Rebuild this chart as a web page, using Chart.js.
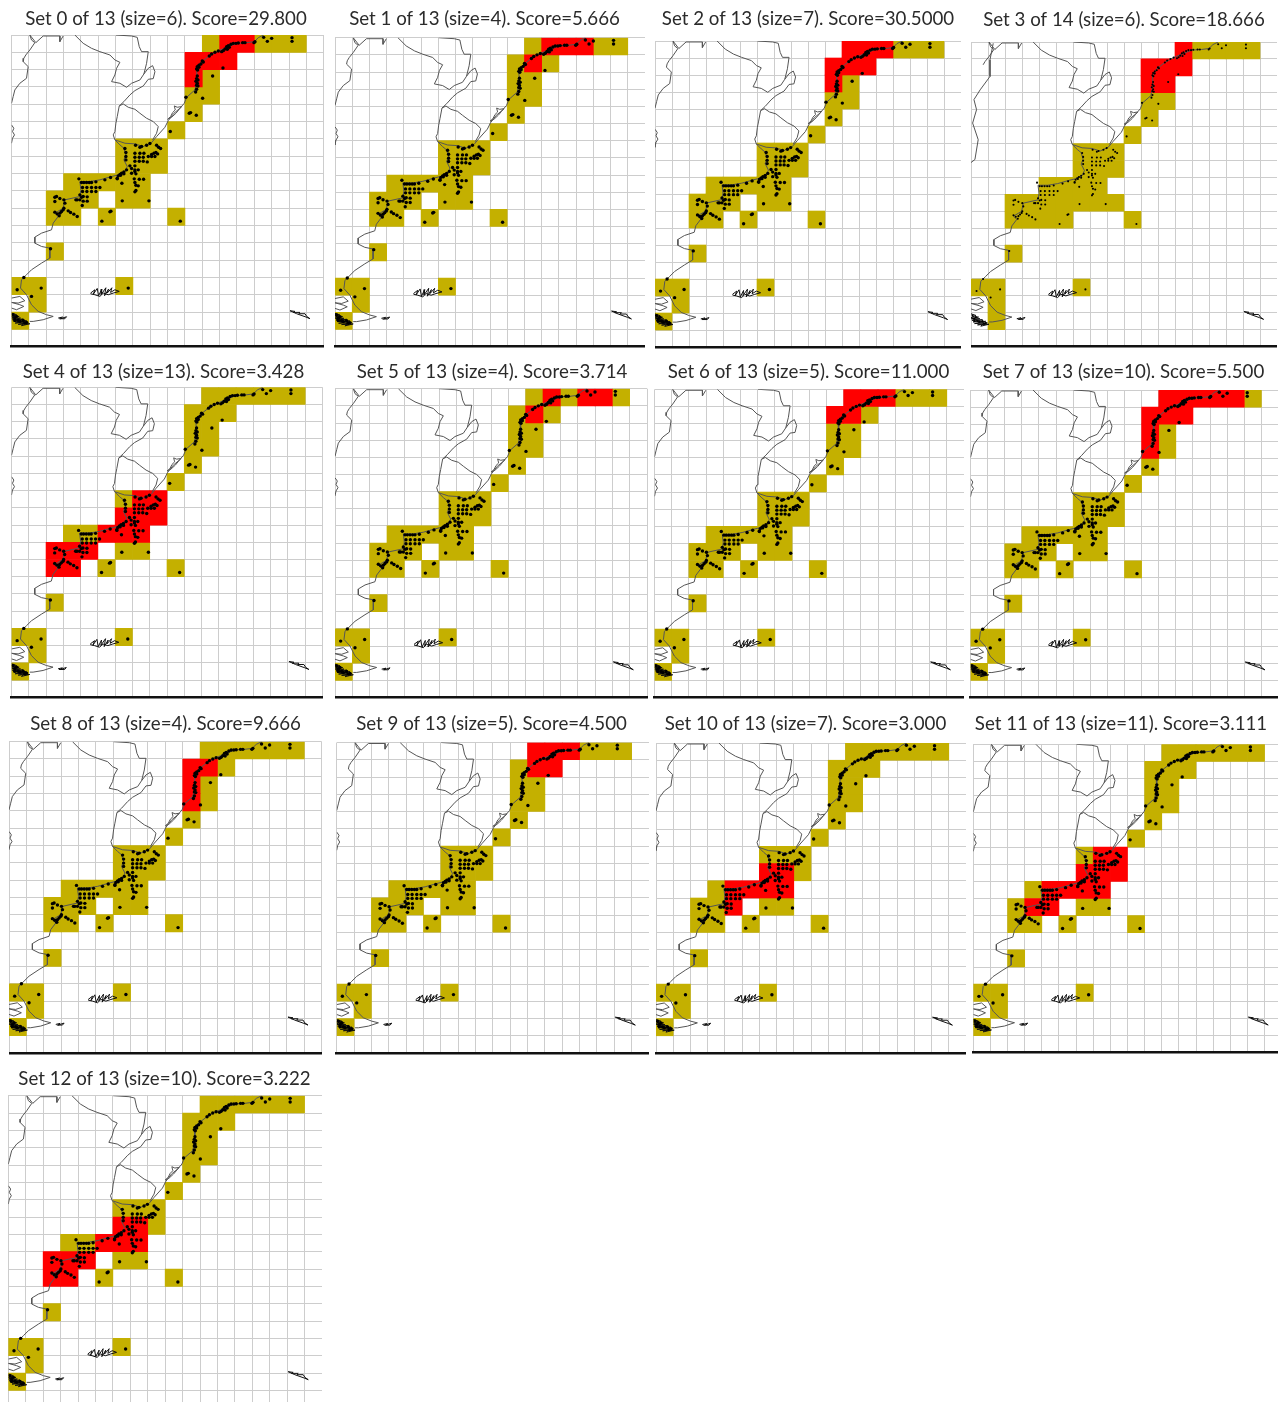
<!DOCTYPE html>
<html><head><meta charset="utf-8">
<style>
html,body{margin:0;padding:0;background:#fff;width:1278px;height:1402px;overflow:hidden}
#wrap{position:relative;width:1278px;height:1402px;overflow:hidden}
canvas{position:absolute;filter:blur(.35px)}
</style>
<script src="https://cdn.jsdelivr.net/npm/chart.js@4/dist/chart.umd.min.js"></script>
</head><body><div id="wrap"></div>
<script>
const titles=["Set 0 of 13 (size=6). Score=29.800","Set 1 of 13 (size=4). Score=5.666","Set 2 of 13 (size=7). Score=30.5000","Set 3 of 14 (size=6). Score=18.666","Set 4 of 13 (size=13). Score=3.428","Set 5 of 13 (size=4). Score=3.714","Set 6 of 13 (size=5). Score=11.000","Set 7 of 13 (size=10). Score=5.500","Set 8 of 13 (size=4). Score=9.666","Set 9 of 13 (size=5). Score=4.500","Set 10 of 13 (size=7). Score=3.000","Set 11 of 13 (size=11). Score=3.111","Set 12 of 13 (size=10). Score=3.222"];

// occupied cells [column,row]
const goldCells=[[11,0],[12,0],[13,0],[14,0],[15,0],[16,0],[10,1],[11,1],[12,1],[10,2],[11,2],[10,3],[11,3],[10,4],[9,5],[6,6],[7,6],[8,6],[6,7],[7,7],[8,7],[3,8],[4,8],[5,8],[6,8],[7,8],[2,9],[3,9],[4,9],[6,9],[7,9],[2,10],[3,10],[5,10],[9,10],[2,12],[0,14],[1,14],[6,14],[1,15],[0,16]];
const goldCellsSet3=[[12,0],[13,0],[14,0],[15,0],[16,0],[10,1],[11,1],[12,1],[10,2],[11,2],[10,3],[11,3],[10,4],[9,5],[6,6],[7,6],[8,6],[6,7],[7,7],[8,7],[4,8],[5,8],[6,8],[7,8],[2,9],[3,9],[4,9],[5,9],[6,9],[7,9],[8,9],[2,10],[3,10],[4,10],[5,10],[9,10],[2,12],[0,14],[1,14],[6,14],[1,15],[1,16]];
// highlighted cells per set
const red0=[[12,0],[13,0],[10,1],[11,1],[12,1],[10,2]];
const red1=[[12,0],[13,0],[14,0],[11,1]];
const red2=[[11,0],[12,0],[13,0],[10,1],[11,1],[12,1],[10,2]];
const red3=[[12,0],[10,1],[11,1],[12,1],[10,2],[11,2]];
const red4=[[7,6],[8,6],[6,7],[7,7],[8,7],[5,8],[6,8],[7,8],[2,9],[3,9],[4,9],[2,10],[3,10]];
const red5=[[12,0],[14,0],[15,0],[11,1]];
const red6=[[11,0],[12,0],[13,0],[10,1],[11,1]];
const red7=[[11,0],[12,0],[13,0],[14,0],[15,0],[10,1],[11,1],[12,1],[10,2],[10,3]];
const red8=[[10,1],[11,1],[10,2],[10,3]];
const red9=[[11,0],[12,0],[13,0],[11,1],[12,1]];
const red10=[[6,7],[7,7],[4,8],[5,8],[6,8],[7,8],[4,9]];
const red11=[[7,6],[8,6],[6,7],[7,7],[8,7],[4,8],[5,8],[6,8],[7,8],[3,9],[4,9]];
const red12=[[6,7],[7,7],[5,8],[6,8],[7,8],[2,9],[3,9],[4,9],[2,10],[3,10]];
const redSets=[red0,red1,red2,red3,red4,red5,red6,red7,red8,red9,red10,red11,red12];

// occurrence records, map units
const recordsNorth=[[876,113],[876,124],[815,115],[791,112],[802,124],[762,128],[765,125],[735,128],[728,128],[715,129],[708,130],[700,130],[693,133],[685,137],[688,142],[680,140],[675,147],[670,152],[682,148],[665,155],[655,153],[645,157],[635,162],[628,168],[607,183],[610,186],[669,204],[603,192],[597,196],[592,200],[590,207],[597,202],[593,210],[638,228],[592,228],[590,236],[594,240],[588,244],[592,250],[590,256],[594,258],[590,268],[587,276],[558,292],[608,295],[568,340],[572,338],[589,346],[511,395]];
const recordsShelf=[[407,436],[420,442],[425,440],[440,436],[450,431],[470,436],[476,442],[482,446],[375,446],[378,458],[405,460],[420,460],[432,460],[468,458],[462,460],[455,464],[473,462],[378,470],[405,472],[418,472],[430,472],[445,470],[455,470],[465,470],[378,480],[405,484],[418,484],[430,484],[442,486],[390,498],[405,498],[395,506],[380,510],[405,510],[415,510],[372,516],[365,520],[360,524],[372,522],[355,528],[352,535],[362,526],[395,520],[405,515],[408,522]];
const recordsGulf=[[237,537],[245,548],[252,548],[260,548],[268,548],[275,548],[288,546],[315,540],[332,533],[352,537],[366,550],[403,537],[418,538],[431,538],[405,548],[408,556],[415,558],[248,563],[261,563],[275,563],[288,563],[300,563],[248,575],[261,575],[275,575],[288,575],[408,572],[405,576],[240,585],[232,600],[245,592],[250,590],[262,591],[262,604],[250,604],[240,600],[228,600],[247,617],[165,592],[170,590],[180,596],[192,600],[195,610],[165,605],[367,603],[447,603],[192,625],[190,630],[165,637],[172,642],[180,640],[185,635],[205,633],[212,638],[222,643],[232,650],[178,648],[330,636],[333,634],[306,664],[541,664]];
const recordsSouth=[[152,747],[72,833],[124,865],[52,870],[95,890],[385,865],[40,945],[45,955],[50,950],[60,965],[70,962],[80,968],[45,962],[55,962],[75,970]];

// coastlines and borders, map units
const coastAtlantic=[[791,105],[775,113],[763,125],[740,128],[710,130],[685,140],[650,155],[625,170],[600,190],[590,210],[592,240],[585,270],[560,292],[553,310],[540,325],[522,340],[505,362],[495,382],[470,410],[455,428],[430,440],[405,432],[375,430],[345,420],[360,435],[372,445],[378,465],[372,480],[382,500],[375,515],[355,525],[335,530],[300,540],[270,545],[240,545],[243,570],[240,590],[195,600],[190,625],[165,640],[175,650],[160,670],[155,690],[125,700],[105,712],[105,730],[125,740],[150,745],[150,775],[125,790],[95,810],[80,825],[65,840],[62,865],[80,885],[95,915],[115,935],[140,945],[160,950],[130,960],[100,965],[90,965]];
const borderUruguay=[[345,420],[340,405],[345,395],[348,370],[352,350],[358,318],[370,312],[385,322],[405,328],[420,340],[440,355],[460,365],[475,380],[470,400],[458,420]];
const borderBrazil=[[358,318],[372,305],[390,285],[405,272],[430,258],[445,238],[460,236],[465,215],[458,197],[445,205],[432,222],[420,240],[395,250],[380,262],[360,250],[335,245],[345,225],[350,205],[360,187],[345,180],[330,165],[300,155],[275,145],[250,130],[225,105]];
const borderParaguay=[[348,105],[395,108],[412,112],[418,140],[425,155],[445,155],[440,190],[432,222]];
const borderBolivia=[[72,175],[78,165],[90,150],[105,128],[95,120],[90,105],[108,128],[130,108],[180,108],[180,125],[190,108]];
const coastChile=[[72,175],[70,185],[85,200],[80,235],[60,250],[45,270],[40,290],[35,310]];
const coastPatch=[[35,375],[42,385],[38,395],[44,405],[38,415],[35,430]];
const coastChileSet3=[[103,109],[93,160],[93,211],[63,252],[44,282],[52,313],[40,354],[57,405],[47,466],[34,476]];
const lagoon=[[503,358],[512,350],[518,338],[526,330],[523,318],[532,322],[545,320],[538,328],[528,340],[515,352],[503,358]];
const magallanes=[[35,895],[60,890],[75,903],[55,910],[35,908],[60,915],[72,920],[50,930],[35,925]];
const coastLines=[coastAtlantic,borderUruguay,borderBrazil,borderParaguay,borderBolivia,coastChile,coastPatch,lagoon,magallanes];
// small dense island outlines
const falklands=[[272,880],[285,870],[280,884],[292,866],[296,888],[306,868],[304,884],[318,864],[314,888],[326,868],[322,880],[336,864],[332,878],[345,870],[358,875],[340,880],[325,885],[310,880],[300,890],[285,885],[272,882]];
const southGeorgia=[[870,933],[885,935],[880,938],[900,938],[896,942],[915,942],[920,950],[930,957],[918,952],[890,942],[870,933]];
const staten=[[175,955],[188,952],[182,957],[200,951],[195,957],[178,957]];
const fuegia=[[35,940],[50,945],[38,950],[58,950],[36,955],[62,955],[38,960],[70,958],[42,965],[80,963],[46,970],[85,968],[55,974],[90,972],[65,978],[75,968],[45,958],[35,950]];
const islandLines=[falklands,southGeorgia,staten,fuegia];

// plot rectangles on the page: left, top, right, bottom, title centre x, title centre y
const layouts=[[11.5,35,323.7,346.7,166,19],[335,37.7,645,346.7,484.5,19],[655,41,961,347,808,19],[971,42,1277,346.7,1124,20],
[11.5,387.3,322.5,697.3,163.5,372],[335,388.7,647,697.5,492,372],[654.5,389.3,964,697.5,808.5,372],[970.5,390,1278.5,697.5,1123.5,372],
[9,741.7,321.7,1053,165.5,724],[336.7,742.5,649,1053,491.5,724],[656,743,966,1053,805.5,724],[973.3,744.3,1281.7,1052.7,1121,724],
[8.3,1095.7,322,1407.7,164.5,1079]];

const toPt=p=>({x:p[0],y:p[1]});
const UNIT=52,X0=35,Y0=105,CELLS=18;
const cellBar=c=>({x:X0+UNIT*(c[0]+.5),y:[Y0+UNIT*c[1],Y0+UNIT*(c[1]+1)]});
const records=[...recordsNorth,...recordsShelf,...recordsGulf,...recordsSouth];
const FONT=18.7,LH=22;

const wrap=document.getElementById('wrap');
titles.forEach((t,i)=>{
  const [L,T,R,B,cx,cy]=layouts[i];
  const Cl=Math.floor(Math.min(L,2*cx-R)), Cr=Math.round(2*cx-Cl)<R?Math.ceil(R):Math.round(2*cx-Cl);
  const Ct=Math.floor(cy-LH/2-1), Cb=Math.ceil(B)+3;
  const cv=document.createElement('canvas');
  cv.width=Cr-Cl;cv.height=Cb-Ct;cv.style.left=Cl+'px';cv.style.top=Ct+'px';
  cv.style.width=(Cr-Cl)+'px';cv.style.height=(Cb-Ct)+'px';
  wrap.appendChild(cv);
  const red=redSets[i];
  const base=i===3?goldCellsSet3:goldCells;
  const isRed=c=>red.some(r=>r[0]===c[0]&&r[1]===c[1]);
  const gold=base.filter(c=>!isRed(c));
  const padT=cy-LH/2-Ct;
  const lines=i===3?[...coastLines.filter(l=>l!==coastChile&&l!==coastPatch),coastChileSet3]:coastLines;
  const datasets=[
    {type:'scatter',order:0,data:records.map(toPt),backgroundColor:'#000',borderWidth:0,pointRadius:i===3?1.05:1.7,showLine:false},
    ...lines.map(l=>({type:'scatter',order:1,data:l.map(toPt),showLine:true,borderColor:'#555',borderWidth:1,pointRadius:0,fill:false,tension:0})),
    ...islandLines.map(l=>({type:'scatter',order:1,data:l.map(toPt),showLine:true,borderColor:'#111',borderWidth:1,pointRadius:0,fill:false,tension:0})),
    {type:'bar',order:2,data:red.map(cellBar),backgroundColor:'#ff0000',borderWidth:0,grouped:false,categoryPercentage:1,barPercentage:1},
    {type:'bar',order:3,data:gold.map(cellBar),backgroundColor:'#c4b000',borderWidth:0,grouped:false,categoryPercentage:1,barPercentage:1}
  ];
  new Chart(cv,{type:'bar',data:{datasets},options:{
    responsive:false,maintainAspectRatio:false,animation:false,devicePixelRatio:1,
    layout:{autoPadding:false,padding:{top:padT,left:0,right:0,bottom:Cb-B}},
    events:[],
    plugins:{legend:{display:false},tooltip:{enabled:false},
      title:{display:true,text:t,color:'#2b2b2b',font:{family:'Lato',size:FONT,weight:'normal',lineHeight:LH/FONT},padding:{top:0,bottom:T-cy-LH/2}}},
    scales:{
      x:{type:'linear',min:X0,max:X0+UNIT*CELLS,offset:false,
        ticks:{display:false,stepSize:UNIT,autoSkip:false,maxTicksLimit:30},
        grid:{color:'#cdcdcd',lineWidth:1,drawTicks:false,offset:false},
        border:{display:true,color:'#111',width:2.6}},
      y:{type:'linear',reverse:true,min:Y0,max:Y0+UNIT*CELLS,position:'left',
        ticks:{display:false,stepSize:UNIT,autoSkip:false,maxTicksLimit:30},
        grid:{color:'#cdcdcd',lineWidth:1,drawTicks:false},
        border:{display:false},
        afterFit:s=>{s.width=L-Cl}},
      yPad:{type:'linear',position:'right',ticks:{display:false},grid:{display:false,drawTicks:false},border:{display:false},
        afterFit:s=>{s.width=Cr-R}}
    }}});
});
</script></body></html>
